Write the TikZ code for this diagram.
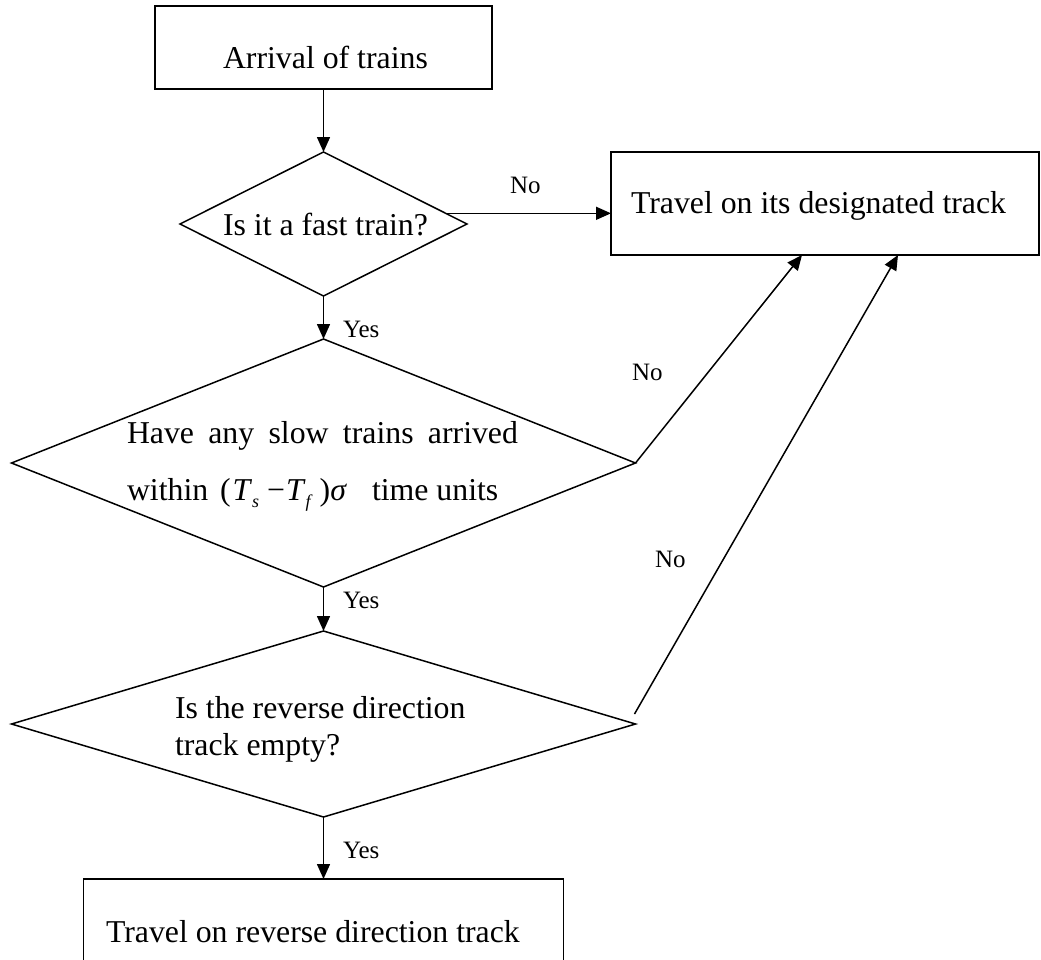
\documentclass[tikz,border=0pt]{standalone}
\usepackage{fontspec}
\setmainfont{Liberation Serif}
\usetikzlibrary{arrows.meta,shapes.geometric,calc}
\begin{document}
\begin{tikzpicture}[x=1pt,y=-1pt,
  boxnode/.style={draw,line width=1.8pt,rectangle,inner sep=0pt,outer sep=0pt},
  decision/.style={draw,line width=1.5pt,diamond,inner sep=0pt,outer sep=0pt},
  flow/.style={line width=1.5pt,-{Triangle[length=15pt,width=13pt]}},
  txt/.style={inner sep=0pt,outer sep=0pt,anchor=base west,font=\fontsize{31.8}{38}\selectfont},
  lbl/.style={inner sep=0pt,outer sep=0pt,anchor=base west,font=\fontsize{25}{30}\selectfont}]
\useasboundingbox (0,0) rectangle (1041,959);
% boxes
\node[boxnode,minimum width=337pt,minimum height=83pt] (b1) at (323.5,47.5) {};
\node[boxnode,minimum width=428pt,minimum height=103pt] (b2) at (825,203.5) {};
\node[boxnode,minimum width=480pt,minimum height=106pt] (b3) at (323.5,932) {};
% decisions
\node[decision,minimum width=287pt,minimum height=144pt] (d1) at (323.5,224) {};
\node[decision,minimum width=624pt,minimum height=248pt] (d2) at (323.5,463) {};
\node[decision,minimum width=624pt,minimum height=186pt] (d3) at (323.5,724) {};
% texts
\node[txt] (tb1) at (223,68) {Arrival of trains};
\node[txt] (tb2) at (631,213) {Travel on its designated track};
\node[txt] (tb3) at (106,942) {Travel on reverse direction track};
\node[txt] (td1) at (223,235) {Is it a fast train?};
\node[txt] (td2a) at (127,443) {\makebox[391pt][s]{Have any slow trains arrived}};
\node[txt] (td2b) at (127,500) {within};
\node[txt] (td2c) at (220,500) {(\hspace{2pt}\textit{T}\raisebox{-0.22em}{\fontsize{18}{18}\selectfont\textit{s}}\hspace{8pt}−\hspace{1pt}\textit{T}\raisebox{-0.22em}{\fontsize{18}{18}\selectfont\textit{f}}\hspace{7pt})\textit{σ}};
\node[txt] (td2d) at (372,500) {time units};
\node[txt] (td3a) at (175,718) {Is the reverse direction};
\node[txt] (td3b) at (175,755) {track empty?};
% connectors
\draw[flow] (b1.south) -- (d1.north);
\draw[flow] (d1.south) -- (d2.north);
\draw[flow] (d2.south) -- (d3.north);
\draw[flow] (d3.south) -- (b3.north);
\draw[flow] (d1.5.2) -- (d1.5.2 -| b2.west);
\draw[flow] (d2.east) -- ($(b2.south west)+(191,0)$);
\draw[flow] ($(d3.east)+(-1,-10)$) -- ($(b2.south west)+(287,0)$);
% labels
\node[lbl] (n1) at (510,193) {No};
\node[lbl] (n2) at (632,380) {No};
\node[lbl] (n3) at (655,567) {No};
\node[lbl] (y1) at (343,337) {Yes};
\node[lbl] (y2) at (343,608) {Yes};
\node[lbl] (y3) at (343,858) {Yes};
\end{tikzpicture}
\end{document}
